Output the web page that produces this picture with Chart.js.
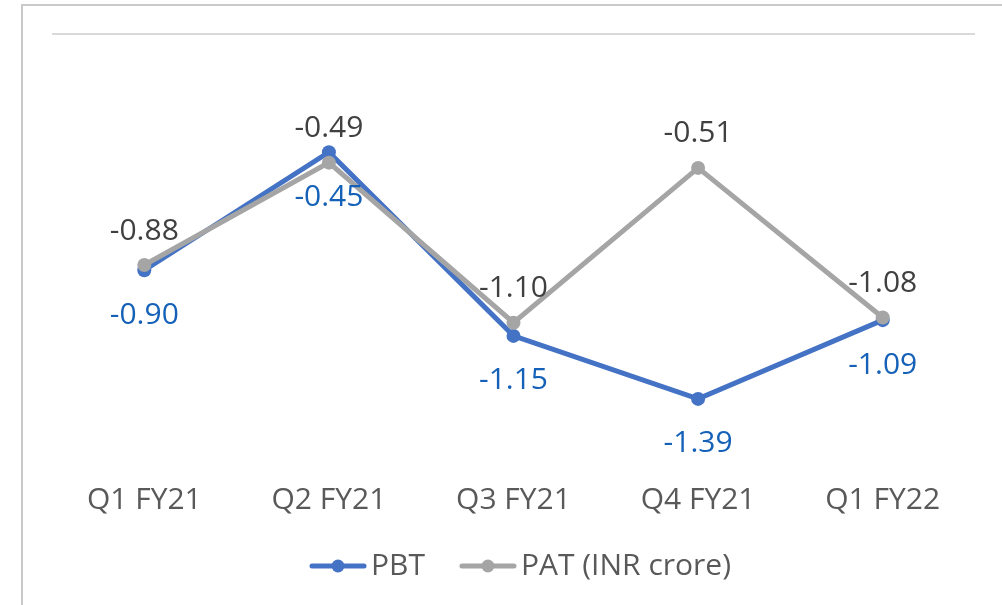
<!DOCTYPE html>
<html>
<head>
<meta charset="utf-8">
<script src="https://cdn.jsdelivr.net/npm/chart.js@4/dist/chart.umd.min.js"></script>
<style>
  html, body { margin: 0; padding: 0; background: #ffffff; }
  #frame { position: absolute; left: 21px; top: 4px; width: 981px; height: 601px;
           border-top: 2px solid #c9c9c9; border-left: 2px solid #c9c9c9; box-sizing: border-box; }
  #c { position: absolute; left: 0; top: 0; }
</style>
</head>
<body>
<div id="frame"></div>
<canvas id="c" width="1002" height="605"></canvas>
<script>
const categories = ['Q1 FY21', 'Q2 FY21', 'Q3 FY21', 'Q4 FY21', 'Q1 FY22'];
const pbtValues = [-0.90, -0.45, -1.15, -1.39, -1.09];
const patValues = [-0.88, -0.49, -1.10, -0.51, -1.08];
const seriesNames = ['PBT', 'PAT (INR crore)'];

const FONT = '"Open Sans", "Noto Sans", sans-serif';
const FS = 30;
const PBT_COLOR = '#4472c4';
const PAT_COLOR = '#a5a5a5';

function legendSymbol(color) {
  const c = document.createElement('canvas');
  c.width = 82; c.height = 16;
  const g = c.getContext('2d');
  g.strokeStyle = color; g.lineWidth = 5; g.lineCap = 'round';
  g.beginPath(); g.moveTo(27, 8); g.lineTo(79, 8); g.stroke();
  g.fillStyle = color;
  g.beginPath(); g.arc(53, 8, 6.5, 0, Math.PI * 2); g.fill();
  return c;
}
const symbols = [legendSymbol(PBT_COLOR), legendSymbol(PAT_COLOR)];

const dataLabelPlugin = {
  id: 'dataLabels',
  afterDatasetsDraw(chart) {
    const ctx = chart.ctx;
    ctx.save();
    ctx.font = FS + 'px ' + FONT;
    ctx.textAlign = 'center';
    ctx.textBaseline = 'middle';
    chart.data.datasets.forEach((ds, di) => {
      const meta = chart.getDatasetMeta(di);
      meta.data.forEach((pt, i) => {
        const v = ds.data[i];
        const above = ds.labelPos === 'above';
        ctx.fillStyle = ds.labelColor;
        ctx.fillText(v.toFixed(2), pt.x, pt.y + (above ? -34 : 45));
      });
    });
    ctx.restore();
  }
};

new Chart(document.getElementById('c'), {
  type: 'line',
  data: {
    labels: categories,
    datasets: [
      { label: seriesNames[0], data: pbtValues, borderColor: PBT_COLOR, backgroundColor: PBT_COLOR,
        pointBackgroundColor: PBT_COLOR, pointBorderWidth: 0, pointRadius: 7, borderWidth: 5,
        order: 2, labelPos: 'below', labelColor: '#1561b8', tension: 0 },
      { label: seriesNames[1], data: patValues, borderColor: PAT_COLOR, backgroundColor: PAT_COLOR,
        pointBackgroundColor: PAT_COLOR, pointBorderWidth: 0, pointRadius: 7, borderWidth: 5,
        order: 1, labelPos: 'above', labelColor: '#404040', tension: 0 }
    ]
  },
  options: {
    responsive: false,
    animation: false,
    devicePixelRatio: 1,
    layout: { padding: { left: 52, right: 27, top: 34, bottom: 14 } },
    scales: {
      x: {
        offset: true,
        grid: { display: false, drawTicks: false },
        border: { display: false },
        ticks: { color: '#595959', font: { family: FONT, size: FS, lineHeight: 2 }, padding: 16 },
        afterFit(scale) { scale.height = 76; }
      },
      y: {
        min: -1.6, max: 0,
        afterBuildTicks(scale) { scale.ticks = [{ value: 0 }]; },
        ticks: { display: false },
        border: { display: false },
        grid: { color: '#d9d9d9', lineWidth: 2, drawTicks: false, tickLength: 0 },
        afterFit(scale) { scale.width = 0; }
      }
    },
    plugins: {
      tooltip: { enabled: false },
      legend: {
        position: 'bottom',
        labels: {
          usePointStyle: true,
          pointStyleWidth: 60,
          padding: 21,
          color: '#595959',
          font: { family: FONT, size: FS },
          sort: (a, b) => a.datasetIndex - b.datasetIndex,
          generateLabels(chart) {
            const items = Chart.defaults.plugins.legend.labels.generateLabels(chart);
            items.forEach(it => { it.pointStyle = symbols[it.datasetIndex]; });
            return items;
          }
        }
      }
    }
  },
  plugins: [dataLabelPlugin]
});
</script>
</body>
</html>
